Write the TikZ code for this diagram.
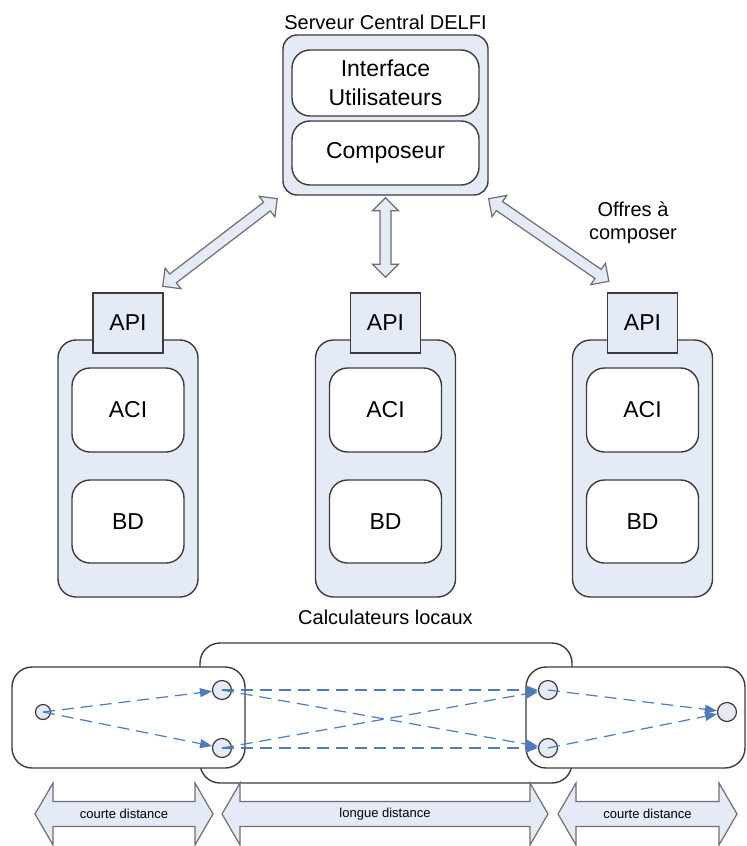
\documentclass[tikz,border=0pt]{standalone}
\usepackage{fontspec}
\setmainfont{Liberation Sans}
\usetikzlibrary{calc,arrows.meta}

\definecolor{fondbleu}{RGB}{228,234,246}
\definecolor{trait}{RGB}{60,60,60}
\definecolor{bleuflux}{RGB}{79,122,190}
\definecolor{bordfleche}{RGB}{110,110,110}

\tikzset{
  cadre/.style={draw=trait, line width=0.7pt, fill=fondbleu, rounded corners=7pt},
  module/.style={draw=trait, line width=0.7pt, fill=white, rounded corners=9pt, align=center, font=\fontsize{11.5}{14.5}\selectfont},
  interf/.style={draw=trait, line width=0.7pt, fill=fondbleu, minimum width=35pt, minimum height=30pt, font=\fontsize{11.5}{14}\selectfont},
  zone/.style={draw=trait, line width=0.7pt, fill=white, rounded corners=10pt},
  noeud/.style={circle, draw=trait, line width=0.6pt, fill=fondbleu, minimum size=9.5pt, inner sep=0pt},
  flux/.style={bleuflux, line width=0.6pt, dash pattern=on 6pt off 3.5pt, -{Triangle[length=6pt,width=4.5pt]}},
  fleche/.style={draw=bordfleche, line width=0.6pt, fill=fondbleu},
  legende/.style={font=\fontsize{10}{11.5}\selectfont, align=center},
  petit/.style={font=\fontsize{6.5}{8}\selectfont}
}

% grosse fleche double : #1 -> #2, longueur tete #3, demi-corps #4, demi-tete #5
\newcommand\grossefleche[5]{%
  \draw[fleche] (#1) -- ($(#1)!#3!(#2)!#5!90:(#2)$) -- ($(#1)!#3!(#2)!#4!90:(#2)$)
    -- ($(#2)!#3!(#1)!#4!-90:(#1)$) -- ($(#2)!#3!(#1)!#5!-90:(#1)$) -- (#2)
    -- ($(#2)!#3!(#1)!#5!90:(#1)$) -- ($(#2)!#3!(#1)!#4!90:(#1)$)
    -- ($(#1)!#3!(#2)!#4!-90:(#2)$) -- ($(#1)!#3!(#2)!#5!-90:(#2)$) -- cycle;}

\begin{document}
\begin{tikzpicture}[x=0.5pt,y=-0.5pt]
        \useasboundingbox (0,0) rectangle (746,846);

        % Serveur central
        \node[legende] (titre) at (385.5,22) {Serveur Central DELFI};
        \node[cadre, minimum width=102.5pt, minimum height=80pt] (serveur) at (385.5,115) {};
        \node[module, minimum width=93.5pt, minimum height=33pt] (interface) at (385.5,83) {Interface\\Utilisateurs};
        \node[module, minimum width=93.5pt, minimum height=32pt] (composeur) at (385.5,153) {Composeur};

        % Calculateurs locaux
        \foreach \cx/\id in {128/a, 385.5/b, 642.5/c} {
          \node[cadre, minimum width=70pt, minimum height=128.5pt, rounded corners=9pt] (calc\id) at (\cx,468.5) {};
          \node[interf] (api\id) at (\cx,323) {API};
          \node[module, minimum width=56pt, minimum height=42pt] (aci\id) at (\cx,410) {ACI};
          \node[module, minimum width=56pt, minimum height=41.5pt] (bd\id) at (\cx,521.5) {BD};
        }
        \node[legende] (locaux) at (385.5,617) {Calculateurs locaux};
        \node[legende] (offres) at (633,223) {Offres à\\composer};

        % Echanges serveur / API
        \coordinate (pa) at ($(apia.north east)+(-1,-6)$);
        \coordinate (sa) at ($(serveur.south west)+(-5,3)$);
        \coordinate (sb) at ($(serveur.south)+(0,2)$);
        \coordinate (pb) at ($(apib.north)+(0,-15)$);
        \coordinate (sc) at ($(serveur.south east)+(0,3)$);
        \coordinate (pc) at ($(apic.north west)+(2,-11)$);
        \grossefleche{pa}{sa}{6.5pt}{2.75pt}{6.5pt}
        \grossefleche{sb}{pb}{6.5pt}{2.75pt}{6.5pt}
        \grossefleche{sc}{pc}{6.5pt}{2.75pt}{6.5pt}

        % Zones de calcul
        \draw[zone] (200,643) rectangle (572,783);
        \draw[zone] (12,667) rectangle (245,768);
        \draw[zone] (526,667) rectangle (745,768);

        % Noeuds et flux
        \node[noeud, minimum size=7.5pt] (n0) at (43,712) {};
        \node[noeud] (n1) at (222,690) {};
        \node[noeud] (n2) at (222,748) {};
        \node[noeud] (n3) at (548,690) {};
        \node[noeud] (n4) at (548,748) {};
        \node[noeud] (n5) at (727,712) {};
        \draw[flux] (n0.center) -- (n1);
        \draw[flux] (n0.center) -- (n2);
        \draw[flux] (n1.center) -- (n3);
        \draw[flux] (n1.center) -- (n4);
        \draw[flux] (n2.center) -- (n3);
        \draw[flux] (n2.center) -- (n4);
        \draw[flux] (n3.center) -- (n5);
        \draw[flux] (n4.center) -- (n5);

        % Distances
        \coordinate (g1) at (35,814);
        \coordinate (g2) at (213,814);
        \coordinate (m1) at (222,814);
        \coordinate (m2) at (548,814);
        \coordinate (d1) at (558,814);
        \coordinate (d2) at (737,814);
        \grossefleche{g1}{g2}{9pt}{6.25pt}{15.5pt}
        \grossefleche{m1}{m2}{9pt}{6.25pt}{15.5pt}
        \grossefleche{d1}{d2}{9pt}{6.25pt}{15.5pt}
        \node[petit] (courteg) at ($(g1)!0.5!(g2)$) {courte distance};
        \node[petit] (longue) at ($(m1)!0.5!(m2)$) {longue distance};
        \node[petit] (courted) at ($(d1)!0.5!(d2)$) {courte distance};

\end{tikzpicture}
\end{document}
